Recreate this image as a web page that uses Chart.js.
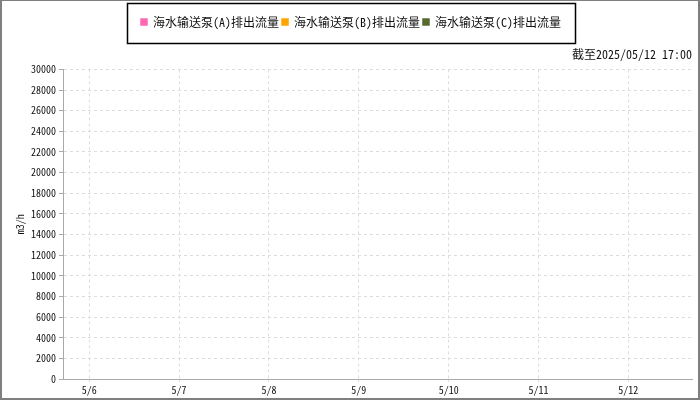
<!DOCTYPE html>
<html>
<head>
<meta charset="utf-8">
<script src="https://cdn.jsdelivr.net/npm/chart.js@4.4.0/dist/chart.umd.min.js"></script>
<style>
  html, body { margin: 0; padding: 0; background: #fff; }
  #wrap {
    width: 700px; height: 400px; box-sizing: border-box;
    border: 2px solid #7f7f7f; border-top-width: 1px;
  }
  #pumpChart { display: block; }
</style>
</head>
<body>
<div id="wrap"><canvas id="pumpChart" width="696" height="397"></canvas></div>
<script>
// series names + colours
let seriesNames = ['海水输送泵(A)排出流量', '海水输送泵(B)排出流量', '海水输送泵(C)排出流量']
let seriesColors = ['#ff69b4', '#ffa500', '#556b2f']

// no readings in the window -> empty series ({x: hours since start, y: m3/h})
let seriesA = []
let seriesB = []
let seriesC = []

// x axis: 5/5 17:00 -> 5/12 17:00, in hours from the start
let axisStartHour = 0
let axisEndHour = 168
let dayTickHours = [7, 31, 55, 79, 103, 127, 151] //midnights
let dayTickLabels = ['5/6', '5/7', '5/8', '5/9', '5/10', '5/11', '5/12']

// y axis
let yMin = 0
let yMax = 30000
let yStep = 2000
let yTitle = 'm3/h'
let asOfText = '截至2025/05/12 17:00'

let monoFont = '"Noto Sans Mono CJK SC", "DejaVu Sans Mono", "Noto Sans CJK SC", monospace'

//box round the legend
let legendBorder = {
    id: 'legendBorder',
    afterDraw(chart) {
        let boxes = chart.legend.legendHitBoxes
        if (!boxes || !boxes.length) return
        let first = boxes[0], last = boxes[boxes.length - 1]
        let x1 = first.left - 14, x2 = last.left + last.width + 14
        let y1 = first.top + first.height / 2 - 19, y2 = first.top + first.height / 2 + 21
        let ctx = chart.ctx
        ctx.save()
        ctx.strokeStyle = '#000'
        ctx.lineWidth = 1.5
        ctx.strokeRect(Math.round(x1) + 0.5, Math.round(y1) + 0.5, Math.round(x2 - x1), Math.round(y2 - y1))
        ctx.restore()
    }
}

let ctx = document.getElementById('pumpChart').getContext('2d')

let pumpChart = new Chart(ctx, {
    type: 'line',
    data: {
        datasets: [seriesA, seriesB, seriesC].map((d, i) => ({
            label: seriesNames[i],
            data: d,
            borderColor: seriesColors[i],
            backgroundColor: seriesColors[i],
            borderWidth: 1.5,
            pointRadius: 0
        }))
    },
    options: {
        responsive: false,
        animation: false,
        layout: { padding: { top: 12, left: 8, right: 6, bottom: 0 } },
        plugins: {
            legend: {
                position: 'top',
                labels: {
                    boxWidth: 6,
                    boxHeight: 6,
                    padding: 3,
                    color: '#111',
                    font: { family: monoFont, size: 12 }
                }
            },
            subtitle: {
                display: true,
                text: asOfText,
                align: 'end',
                weight: 900,
                color: '#111',
                font: { family: monoFont, size: 12, weight: 'normal' },
                padding: { top: 9, bottom: 8 }
            },
            tooltip: { enabled: false }
        },
        scales: {
            x: {
                type: 'linear',
                min: axisStartHour,
                max: axisEndHour,
                afterBuildTicks: axis => {
                    axis.ticks = dayTickHours.map(v => ({ value: v }))
                },
                ticks: {
                    callback: (v) => dayTickLabels[dayTickHours.indexOf(v)],
                    color: '#111',
                    maxRotation: 0,
                    padding: 2,
                    font: { family: monoFont, size: 10 }
                },
                grid: {
                    color: '#dddddd',
                    tickLength: 3,
                    tickColor: '#dddddd',
                    tickBorderDash: [3, 3]
                },
                border: { color: '#aaaaaa', width: 1, dash: [3, 3] }
            },
            y: {
                min: yMin,
                max: yMax,
                afterFit: axis => { axis.width = 53 },
                ticks: {
                    stepSize: yStep,
                    callback: v => String(v),
                    color: '#111',
                    padding: 3,
                    font: { family: monoFont, size: 10 }
                },
                title: {
                    display: true,
                    text: yTitle,
                    color: '#111',
                    padding: { top: 4, bottom: 4 },
                    font: { family: monoFont, size: 10 }
                },
                grid: {
                    color: '#dddddd',
                    tickLength: 4,
                    tickColor: '#aaaaaa',
                    tickBorderDash: []
                },
                border: { color: '#aaaaaa', width: 1, dash: [3, 3] }
            }
        }
    },
    plugins: [legendBorder]
})
</script>
</body>
</html>
